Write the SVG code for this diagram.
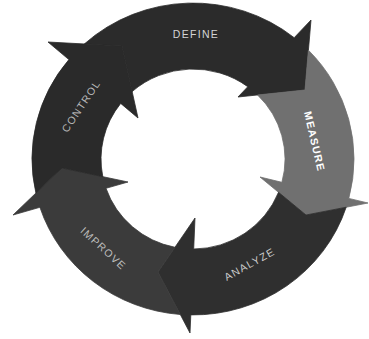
<svg xmlns="http://www.w3.org/2000/svg" width="369" height="339" viewBox="0 0 369 339">
  <style>
    .arrow { stroke-width: 0.8; stroke-linejoin: miter; }
    .lbl { font-family: "Liberation Sans", Arial, sans-serif; font-size: 10.5px; text-anchor: middle; letter-spacing: 1.3px; }
  </style>
  <rect width="369" height="339" fill="#ffffff"/>
  <g id="define">
    <path class="arrow" fill="#2b2b2b" stroke="#2b2b2b" d="M84.3,44.0 A161,156 0 0 1 294.2,37.7 L311,20 L305,90 L238,97 L247.8,86.7 A92,90 0 0 0 132.1,91.6 L122,46 Z"/>
    <text class="lbl" x="196" y="37.5" fill="#d4d4d4">DEFINE</text>
  </g>
  <g id="measure">
    <path class="arrow" fill="#707070" stroke="#707070" d="M308.4,50.2 A161,156 0 0 1 348.8,198.4 L368,203 L306,215 L260,177 L281.9,182.3 A92,90 0 0 0 257.6,95.0 L305,90 Z"/>
    <text class="lbl" x="0" y="0" fill="#ffffff" font-weight="bold" font-size="11" letter-spacing="1.4" transform="translate(314.5,141.5) rotate(77)" dy="0.36em">MEASURE</text>
  </g>
  <g id="analyze">
    <path class="arrow" fill="#2f2f2f" stroke="#2f2f2f" d="M346.2,207.2 A161,156 0 0 1 190.8,314.9 L190,333 L158,272 L195,218 L193.7,249 A92,90 0 0 0 278.5,192.3 L306,215 Z"/>
    <text class="lbl" x="0" y="0" fill="#cccccc" transform="translate(249.5,264) rotate(-29)" dy="0.36em">ANALYZE</text>
  </g>
  <g id="improve">
    <path class="arrow" fill="#3b3b3b" stroke="#3b3b3b" d="M180.3,314.5 A161,156 0 0 1 39.9,207.3 L13,215 L62,168 L128,182 L106.0,188.3 A92,90 0 0 0 175.0,247.3 L158,272 Z"/>
    <text class="lbl" x="0" y="0" fill="#bdbdbd" transform="translate(103.5,248.5) rotate(42.5)" dy="0.36em">IMPROVE</text>
  </g>
  <g id="control">
    <path class="arrow" fill="#2a2a2a" stroke="#2a2a2a" d="M35.9,193.1 A161,156 0 0 1 68.9,59.6 L48,42 L122,46 L138,118 L120.7,103.4 A92,90 0 0 0 102.8,176.7 L62,168 Z"/>
    <text class="lbl" x="0" y="0" fill="#b8b8b8" transform="translate(81,106) rotate(-56)" dy="0.36em">CONTROL</text>
  </g>
</svg>
